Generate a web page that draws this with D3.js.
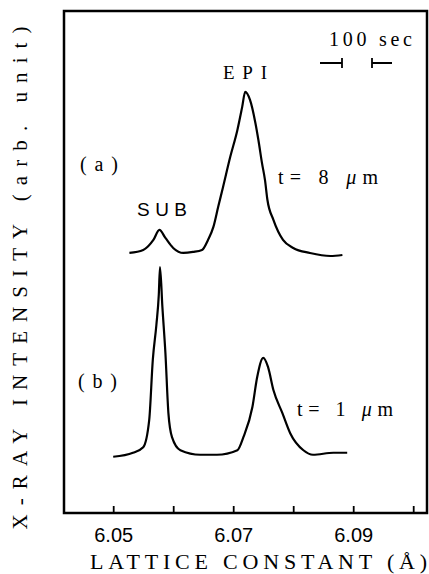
<!DOCTYPE html>
<html>
<head>
<meta charset="utf-8">
<script src="https://cdn.jsdelivr.net/npm/d3@7"></script>
<style>
  body { margin: 0; background: #fff; }
  svg { display: block; }
</style>
</head>
<body>
<div id="container"></div>
<script>
// lattice constant (Å) and intensity (arb. unit)
const curveA_x = [6.0527, 6.0550, 6.0567, 6.0577, 6.0587, 6.0600, 6.0617, 6.0633, 6.0648, 6.0658,
    6.0667, 6.0675, 6.0683, 6.0695, 6.0707, 6.0715, 6.0720, 6.0728, 6.0737, 6.0742,
    6.0748, 6.0753, 6.0757, 6.0767, 6.0783, 6.0800, 6.0828, 6.0862, 6.0882];
const curveA_y = [51.8, 52.4, 54.4, 56.4, 54.8, 52.8, 51.8, 52.0, 52.4, 54.4,
    57.0, 61.0, 64.9, 70.9, 76.3, 80.9, 83.9, 82.3, 77.7, 74.3,
    69.7, 66.3, 62.4, 58.4, 54.4, 52.8, 51.8, 51.2, 51.4];

const curveB_x = [6.0500, 6.0533, 6.0550, 6.0560, 6.0566, 6.0572, 6.0576, 6.0578, 6.0582, 6.0587, 6.0592,
    6.0598, 6.0612, 6.0645, 6.0673, 6.0707, 6.0717, 6.0732, 6.0740, 6.0750, 6.0758,
    6.0767, 6.0782, 6.0795, 6.0817, 6.0833, 6.0867, 6.0890];
const curveB_y = [11.2, 12.0, 13.1, 18.5, 30.5, 37.5, 43.5, 49.0, 41.0, 31.9, 19.9,
    15.1, 12.5, 11.6, 11.6, 12.5, 15.1, 21.1, 27.1, 30.9, 29.1,
    24.5, 19.9, 15.9, 12.5, 11.6, 12.0, 12.0];

const xTicks = [6.05, 6.06, 6.07, 6.08, 6.09, 6.10];
const xTickLabels = ['6.05', '', '6.07', '', '6.09', ''];

const width = 429;
const height = 574;
const frame = { left: 64, top: 11, right: 427, bottom: 513 };

const x = d3.scaleLinear().domain([6.0418, 6.1023]).range([frame.left, frame.right]);
const y = d3.scaleLinear().domain([0, 100]).range([frame.bottom, frame.top]);

const svg = d3.select('#container').append('svg')
    .attr('width', width)
    .attr('height', height)
    .attr('viewBox', [0, 0, width, height]);

// frame
svg.append('rect')
    .attr('x', frame.left)
    .attr('y', frame.top)
    .attr('width', frame.right - frame.left)
    .attr('height', frame.bottom - frame.top)
    .attr('fill', 'none')
    .attr('stroke', '#000')
    .attr('stroke-width', 2.5);

// bottom axis, ticks pointing inward
const xAxis = d3.axisBottom(x)
    .tickValues(xTicks)
    .tickSize(-7)
    .tickFormat((d, i) => xTickLabels[i]);

const gx = svg.append('g')
    .attr('transform', `translate(0,${frame.bottom})`)
    .call(xAxis);
gx.select('.domain').remove();
gx.selectAll('.tick line').attr('stroke', '#000').attr('stroke-width', 1.8);
gx.selectAll('.tick text')
    .attr('y', 29)
    .attr('dy', 0)
    .attr('fill', '#000')
    .style('font-family', '"Liberation Sans", Arial, sans-serif')
    .style('font-size', '20px');

// curves
const line = d3.line()
    .x(d => x(d[0]))
    .y(d => y(d[1]))
    .curve(d3.curveMonotoneX);

const series = [
    d3.zip(curveA_x, curveA_y),
    d3.zip(curveB_x, curveB_y)
];

svg.append('g')
    .selectAll('path')
    .data(series)
    .enter().append('path')
    .attr('d', line)
    .attr('fill', 'none')
    .attr('stroke', '#000')
    .attr('stroke-width', 2.2)
    .attr('stroke-linejoin', 'round');

// labels
const serif = '"Liberation Serif", "DejaVu Serif", serif';
const sans = '"Liberation Sans", "DejaVu Sans", sans-serif';

function label(text, px, py, size, len, family) {
    return svg.append('text')
        .attr('x', px)
        .attr('y', py)
        .attr('textLength', len)
        .attr('lengthAdjust', 'spacing')
        .style('font-family', family || serif)
        .style('font-size', size + 'px')
        .attr('fill', '#000')
        .text(text);
}

label('100 sec', 329, 46, 20, 83);
label('EPI', 223, 79, 19, 44);
label('(a)', 80, 171, 20, 38);
label('SUB', 137, 216, 19, 50, sans);
label('(b)', 78, 388, 20, 39);

const tA = svg.append('text')
    .attr('x', 278).attr('y', 184)
    .attr('textLength', 100).attr('lengthAdjust', 'spacing')
    .style('font-family', serif).style('font-size', '20px');
tA.append('tspan').text('t= 8 ');
tA.append('tspan').style('font-style', 'italic').text('μ');
tA.append('tspan').text('m');

const tB = svg.append('text')
    .attr('x', 297).attr('y', 416)
    .attr('textLength', 96).attr('lengthAdjust', 'spacing')
    .style('font-family', serif).style('font-size', '20px');
tB.append('tspan').text('t= 1 ');
tB.append('tspan').style('font-style', 'italic').text('μ');
tB.append('tspan').text('m');

// 100 sec scale marks
const bar = svg.append('g').attr('stroke', '#000').attr('stroke-width', 1.8).attr('fill', 'none');
bar.append('path').attr('d', 'M320,63H342M342,58V68');
bar.append('path').attr('d', 'M372,58V68M372,63H392');

// axis titles
svg.append('text')
    .attr('x', 90)
    .attr('y', 569)
    .attr('textLength', 337)
    .attr('lengthAdjust', 'spacing')
    .style('font-family', serif)
    .style('font-size', '22px')
    .text('LATTICE CONSTANT (Å)');

svg.append('text')
    .attr('transform', 'translate(27,278) rotate(-90)')
    .attr('text-anchor', 'middle')
    .attr('textLength', 503)
    .attr('lengthAdjust', 'spacing')
    .style('font-family', serif)
    .style('font-size', '21px')
    .text('X-RAY INTENSITY (arb. unit)');
</script>
</body>
</html>
